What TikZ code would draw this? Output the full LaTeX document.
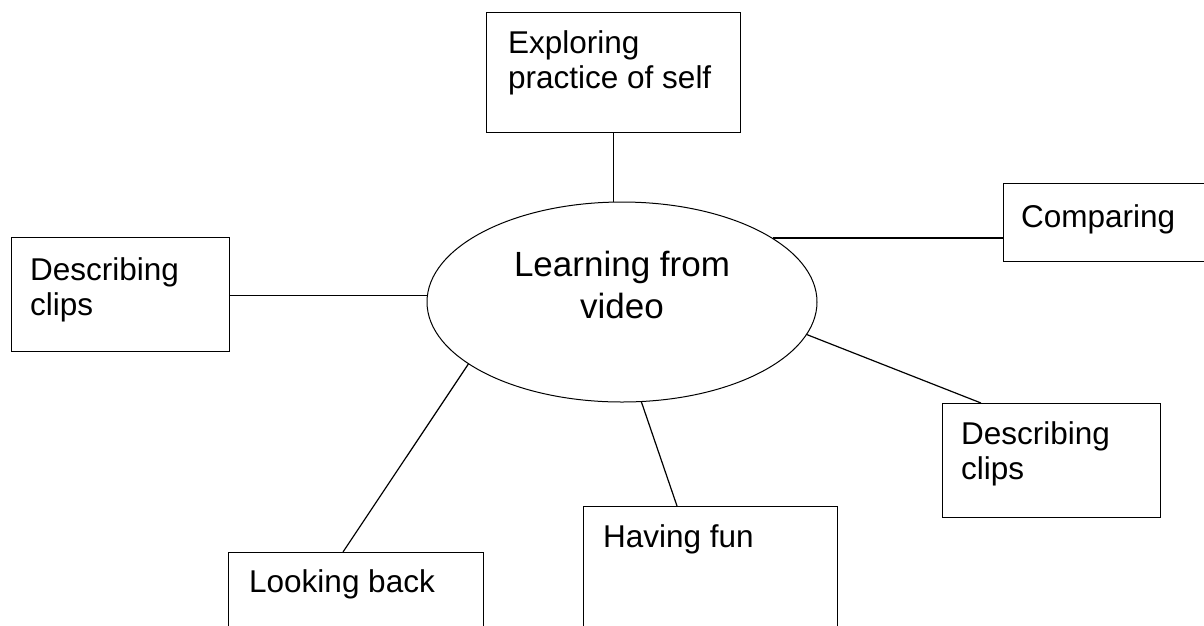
\documentclass[tikz,border=0pt]{standalone}
\usepackage{fontspec}
\setmainfont{Liberation Sans}
\usetikzlibrary{shapes.geometric,calc}
\tikzset{
  box/.style={draw=black, line width=1.3pt, rectangle, inner sep=0pt, anchor=north west},
  boxtext/.style={inner sep=0pt, anchor=north west, align=left, font=\fontsize{31.5}{35.5}\selectfont},
  hub/.style={draw=black, line width=1pt, ellipse, inner sep=0pt, minimum width=390pt, minimum height=200pt},
  hubtext/.style={inner sep=0pt, anchor=north, align=center, font=\fontsize{35}{42}\selectfont},
  link/.style={draw=black, line width=1.2pt}
}
\begin{document}
\begin{tikzpicture}[x=1pt,y=-1pt]
\useasboundingbox (0,0) rectangle (1204,625);
% central ellipse
\node[hub] (ell) at (622,302) {};
\node[hubtext] (hubt) at (622,251) {Learning from\\video};
% boxes
\node[box, minimum width=254pt, minimum height=120pt] (top) at (486,12) {};
\node[box, minimum width=227pt, minimum height=78pt] (cmp) at (1003,183) {};
\node[box, minimum width=218pt, minimum height=114pt] (lft) at (11,237) {};
\node[box, minimum width=218pt, minimum height=114pt] (rd) at (942,403) {};
\node[box, minimum width=254pt, minimum height=154pt] (hf) at (583,506) {};
\node[box, minimum width=255pt, minimum height=148pt] (lb) at (228,552) {};
% texts
\node[boxtext] (topt) at ($(top.north west)+(22,18.4)$) {Exploring\\practice of self};
\node[boxtext] (cmpt) at ($(cmp.north west)+(18,21)$) {Comparing};
\node[boxtext] (lftt) at ($(lft.north west)+(19,20.4)$) {Describing\\clips};
\node[boxtext] (rdt) at ($(rd.north west)+(19,18.4)$) {Describing\\clips};
\node[boxtext] (hft) at ($(hf.north west)+(20,18.4)$) {Having fun};
\node[boxtext] (lbt) at ($(lb.north west)+(21,17.4)$) {Looking back};
% connectors
\draw[link] (top.south) -- (top.south |- ell.north);
\draw[link] (ell.23.7) -- (ell.23.7 -| cmp.west);
\draw[link] (ell.178.8) -- (ell.178.8 -| lft.east);
\draw[link] (ell.350.9) -- ($(rd.north west)+(39,0)$);
\draw[link] (ell.281.9) -- ($(hf.north west)+(94,0)$);
\draw[link] (ell.202.6) -- ($(lb.north west)+(115,0)$);
\end{tikzpicture}
\end{document}
